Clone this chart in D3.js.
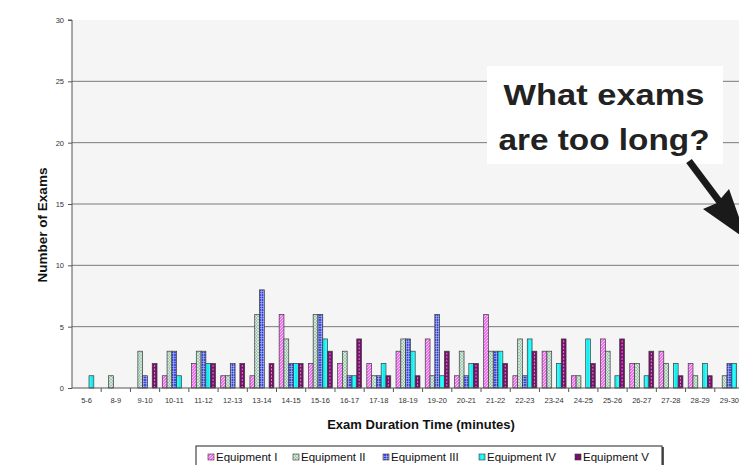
<!DOCTYPE html>
<html>
<head>
<meta charset="utf-8">
<script src="https://cdn.jsdelivr.net/npm/d3@7/dist/d3.min.js"></script>
<style>
  html, body { margin: 0; padding: 0; background: #ffffff; }
  svg { display: block; font-family: "Liberation Sans", Arial, sans-serif; }
</style>
</head>
<body>
<svg id="chart" width="739" height="465"></svg>
<script>
// Exam duration buckets (minutes)
const categories = ["5-6","8-9","9-10","10-11","11-12","12-13","13-14","14-15","15-16","16-17",
  "17-18","18-19","19-20","20-21","21-22","22-23","23-24","24-25","25-26","26-27","27-28","28-29","29-30"];

// Number of exams per bucket, one array per equipment
const equipI   = [0,0,0,1,2,1,1,6,2,2,2,3,4,1,6,1,3,1,4,2,3,2,0];
const equipII  = [0,1,3,3,3,1,6,4,6,3,1,4,1,3,3,4,3,1,3,2,2,1,1];
const equipIII = [0,0,1,3,3,2,8,2,6,1,1,4,6,1,3,1,0,0,0,0,0,0,2];
const equipIV  = [1,0,0,1,2,0,0,2,4,1,2,3,1,2,3,4,2,4,1,1,2,2,2];
const equipV   = [0,0,2,0,2,2,2,2,3,4,1,1,3,2,2,3,4,2,4,3,1,1,0];

const seriesNames = ["Equipment I","Equipment II","Equipment III","Equipment IV","Equipment V"];
const seriesValues = [equipI, equipII, equipIII, equipIV, equipV];
const yTicks = [0,5,10,15,20,25,30];

const svg = d3.select("#chart");
const defs = svg.append("defs");

// Fill patterns for each equipment
function pat(id, w, h, base, draw) {
  const p = defs.append("pattern").attr("id", id).attr("patternUnits", "userSpaceOnUse")
    .attr("width", w).attr("height", h);
  p.append("rect").attr("width", w).attr("height", h).attr("fill", base);
  draw(p);
}
pat("pI", 3, 3, "#f070f0", p => {
  p.append("path").attr("d", "M0,3 L3,0 M-1,1 L1,-1 M2,4 L4,2").attr("stroke", "#ffd0ff").attr("stroke-width", 0.9);
});
pat("pII", 3, 3, "#9cc6ae", p => {
  p.append("path").attr("d", "M0,0 L3,3 M0,3 L3,0").attr("stroke", "#e6f2ea").attr("stroke-width", 0.7);
});
pat("pIII", 2.5, 2.5, "#2a3ad0", p => {
  p.append("path").attr("d", "M0,1.25 H2.5 M1.25,0 V2.5").attr("stroke", "#b8c0ff").attr("stroke-width", 0.7);
});
pat("pIV", 4, 4, "#10f0f4", p => {
  p.append("path").attr("d", "M2,0 V4").attr("stroke", "#70ffff").attr("stroke-width", 0.8);
});
pat("pV", 4, 4, "#7a0c6c", p => {});
const fills = ["url(#pI)","url(#pII)","url(#pIII)","url(#pIV)","url(#pV)"];

const margin = { left: 72, top: 20, bottom: 388 };
const plotRight = 744;

const x0 = d3.scaleBand().domain(categories).range([margin.left, plotRight]).padding(0);
const x1 = d3.scaleBand().domain(d3.range(5)).range([0, x0.bandwidth()]).paddingInner(0).paddingOuter(0.55);
const y = d3.scaleLinear().domain([0, 30]).range([margin.bottom, margin.top]);

// Plot background
svg.append("rect").attr("x", margin.left).attr("y", margin.top)
  .attr("width", 739 - margin.left).attr("height", margin.bottom - margin.top)
  .attr("fill", "#f5f5f5");

// Horizontal gridlines
svg.append("g").selectAll("line").data(yTicks.filter(t => t > 0 && t < 30)).join("line")
  .attr("x1", margin.left).attr("x2", 739)
  .attr("y1", d => y(d)).attr("y2", d => y(d))
  .attr("stroke", "#7a7a7a").attr("stroke-width", 1);

// Bars
const rows = [];
categories.forEach((c, i) => {
  seriesValues.forEach((vals, s) => {
    if (vals[i] > 0) rows.push({ c, s, v: vals[i] });
  });
});
const bars = svg.append("g");
bars.selectAll("rect").data(rows).join("rect")
  .attr("x", d => x0(d.c) + x1(d.s))
  .attr("y", d => y(d.v))
  .attr("width", x1.bandwidth())
  .attr("height", d => y(0) - y(d.v))
  .attr("fill", d => fills[d.s])
  .attr("stroke", "#3a3a3a").attr("stroke-width", 0.7);
// Dashed centre line on Equipment V bars
bars.selectAll("line").data(rows.filter(d => d.s === 4)).join("line")
  .attr("x1", d => x0(d.c) + x1(d.s) + x1.bandwidth() / 2)
  .attr("x2", d => x0(d.c) + x1(d.s) + x1.bandwidth() / 2)
  .attr("y1", d => y(d.v) + 1.5).attr("y2", y(0) - 1)
  .attr("stroke", "#e0b8e0").attr("stroke-width", 0.8).attr("stroke-dasharray", "2,1.5");

// Y axis
const yAxis = svg.append("g").attr("transform", `translate(${margin.left},0)`)
  .call(d3.axisLeft(y).tickValues(yTicks).tickSize(4).tickPadding(4));
yAxis.select(".domain").attr("stroke", "#555").attr("d", `M-4,${y(30)}H0V${y(0)}`);
yAxis.selectAll(".tick line").attr("stroke", "#555");
yAxis.selectAll("text").attr("font-size", 7.5).attr("fill", "#333")
  .attr("font-family", "'Liberation Sans', Arial, sans-serif");

// X axis: ticks sit between categories
const xAxis = svg.append("g").attr("transform", `translate(0,${margin.bottom})`)
  .call(d3.axisBottom(x0).tickSize(0).tickPadding(10));
xAxis.select(".domain").attr("stroke", "#555").attr("d", `M${margin.left},0H739`);
xAxis.selectAll("text").attr("font-size", 7.5).attr("fill", "#333")
  .attr("font-family", "'Liberation Sans', Arial, sans-serif");
xAxis.selectAll(".sep").data(categories.slice(1)).join("line").attr("class", "sep")
  .attr("x1", d => x0(d)).attr("x2", d => x0(d)).attr("y1", 0).attr("y2", 4)
  .attr("stroke", "#555");

// Axis titles
svg.append("text").attr("x", 421).attr("y", 429).attr("text-anchor", "middle")
  .attr("font-size", 13).attr("font-weight", "bold").attr("fill", "#111")
  .text("Exam Duration Time (minutes)");
svg.append("text").attr("transform", "translate(47,225) rotate(-90)").attr("text-anchor", "middle")
  .attr("font-size", 13.5).attr("font-weight", "bold").attr("fill", "#111")
  .text("Number of Exams");

// Legend
const lg = svg.append("g");
lg.append("rect").attr("x", 196).attr("y", 446).attr("width", 466).attr("height", 30)
  .attr("fill", "#fff").attr("stroke", "#222").attr("stroke-width", 1);
lg.append("line").attr("x1", 663).attr("x2", 663).attr("y1", 447).attr("y2", 466)
  .attr("stroke", "#222").attr("stroke-width", 1.5);
const legendX = [208, 293, 383, 479, 575];
seriesNames.forEach((name, i) => {
  lg.append("rect").attr("x", legendX[i]).attr("y", 454).attr("width", 6).attr("height", 6)
    .attr("fill", fills[i]).attr("stroke", "#333").attr("stroke-width", 0.6);
  lg.append("text").attr("x", legendX[i] + 8).attr("y", 461)
    .attr("font-size", 11.5).attr("fill", "#111").text(name);
});

// Callout
const call = svg.append("g");
call.append("rect").attr("x", 487).attr("y", 66).attr("width", 236).attr("height", 98).attr("fill", "#fff");
call.append("text").attr("x", 604).attr("y", 105).attr("text-anchor", "middle")
  .attr("font-size", 29).attr("font-weight", "bold").attr("fill", "#222")
  .attr("textLength", 201).attr("lengthAdjust", "spacingAndGlyphs").text("What exams");
call.append("text").attr("x", 604).attr("y", 150).attr("text-anchor", "middle")
  .attr("font-size", 29).attr("font-weight", "bold").attr("fill", "#222")
  .attr("textLength", 211).attr("lengthAdjust", "spacingAndGlyphs").text("are too long?");
// Arrow pointing down-right
call.append("line").attr("x1", 689).attr("y1", 161).attr("x2", 728).attr("y2", 213)
  .attr("stroke", "#1a1a1a").attr("stroke-width", 7);
call.append("polygon").attr("points", "747,240 703,209 717,203 729,189")
  .attr("fill", "#1a1a1a");
</script>
</body>
</html>
